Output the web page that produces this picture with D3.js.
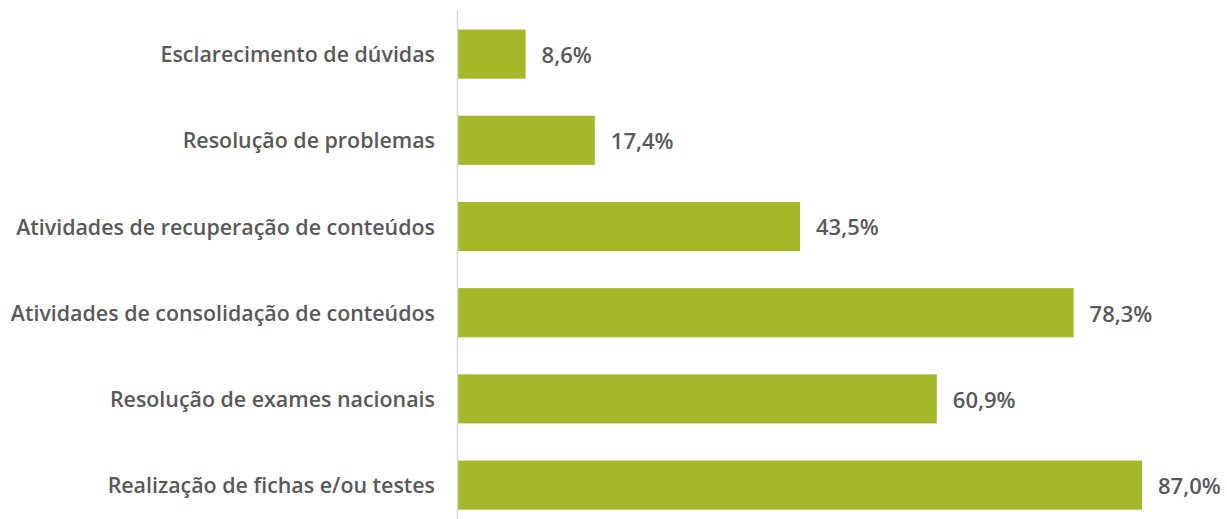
<!DOCTYPE html>
<html>
<head>
<meta charset="utf-8">
<script src="https://cdn.jsdelivr.net/npm/d3@7"></script>
<style>
  html, body { margin: 0; padding: 0; background: #fff; }
  svg text { font-family: "Open Sans", sans-serif; font-weight: 600; fill: #595959; }
</style>
</head>
<body>
<main></main>
<script>
'use strict';

const categories = [
  'Esclarecimento de dúvidas',
  'Resolução de problemas',
  'Atividades de recuperação de conteúdos',
  'Atividades de consolidação de conteúdos',
  'Resolução de exames nacionais',
  'Realização de fichas e/ou testes'
];
const values = [8.6, 17.4, 43.5, 78.3, 60.9, 87.0];

const width = 1227,
  height = 519;
const margin = { top: 11, left: 458 };

const svg = d3.select('main')
  .append('svg')
  .attr('width', width)
  .attr('height', height);

const x = d3.scaleLinear()
  .domain([0, 87])
  .range([margin.left, 1142]);

const y = d3.scaleBand()
  .domain(categories)
  .range([margin.top, margin.top + 6 * 86.2])
  .paddingInner(0.43)
  .paddingOuter(0.215);

// bars
svg.append('g')
  .selectAll('rect')
  .data(categories)
  .enter()
  .append('rect')
  .attr('x', x(0))
  .attr('y', d => y(d))
  .attr('width', (d, i) => x(values[i]) - x(0))
  .attr('height', y.bandwidth())
  .attr('fill', '#a6b82a');

// vertical axis line
svg.append('line')
  .attr('x1', x(0) - 0.5)
  .attr('x2', x(0) - 0.5)
  .attr('y1', 10)
  .attr('y2', height)
  .attr('stroke', '#d9d9d9')
  .attr('stroke-width', 1.5);

// category labels
svg.append('g')
  .selectAll('text')
  .data(categories)
  .enter()
  .append('text')
  .attr('x', 435)
  .attr('y', d => y(d) + y.bandwidth() / 2)
  .attr('dy', '0.38em')
  .attr('text-anchor', 'end')
  .style('font-size', '21.4px')
  .text(d => d);

// value labels
svg.append('g')
  .selectAll('text')
  .data(categories)
  .enter()
  .append('text')
  .attr('x', (d, i) => x(values[i]) + 16)
  .attr('y', d => y(d) + y.bandwidth() / 2)
  .attr('dy', '0.4em')
  .style('font-size', '22px')
  .text((d, i) => values[i].toFixed(1).replace('.', ',') + '%');
</script>
</body>
</html>
